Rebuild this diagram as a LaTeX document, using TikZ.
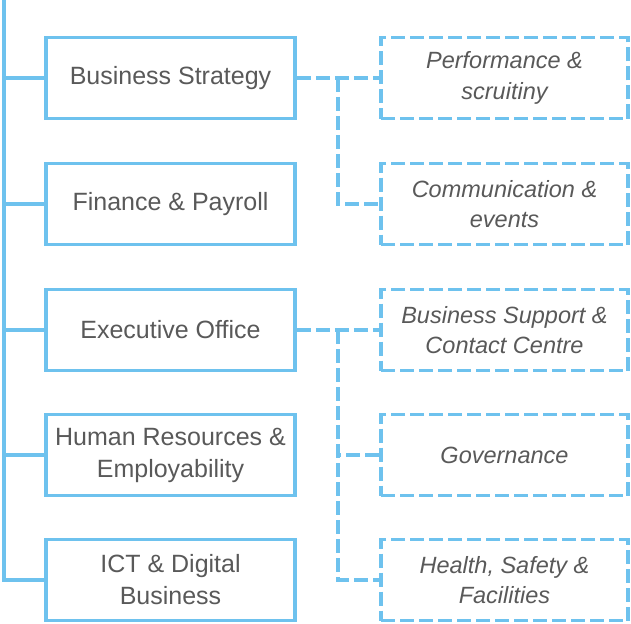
\documentclass[tikz,border=0pt]{standalone}
\usepackage{fontspec}
\setmainfont{Liberation Sans}
\usepackage{tikz}
\usetikzlibrary{calc}
\usetikzlibrary{positioning}
\definecolor{orgblue}{RGB}{110,194,238}
\definecolor{orggray}{RGB}{89,89,89}
\tikzset{
  unitbox/.style={draw=orgblue, line width=3.6pt, minimum width=249pt, minimum height=81pt,
    align=center, text=orggray, font=\fontsize{25}{32}\selectfont},
  teambox/.style={draw=orgblue, line width=3.6pt, dash pattern=on 14pt off 5pt,
    minimum width=247pt, minimum height=81pt, align=center, text=orggray,
    font=\fontsize{23.5}{30.5}\selectfont\itshape},
  trunk/.style={draw=orgblue, line width=3.6pt},
  dashline/.style={draw=orgblue, line width=3.6pt, dash pattern=on 14pt off 5pt}
}

\begin{document}
\begin{tikzpicture}[x=1pt,y=-1pt]
    \useasboundingbox (0,0) rectangle (631,623);
    % left column
    \node[unitbox] (bs) at (170.5,78) {Business Strategy};
    \node[unitbox] (fin) at (170.5,204) {Finance \& Payroll};
    \node[unitbox] (exec) at (170.5,330) {Executive Office};
    \node[unitbox] (hr) at (170.5,455) {Human Resources \&\\Employability};
    \node[unitbox] (ict) at (170.5,580) {ICT \& Digital\\Business};
    % right column
    \node[teambox] (perf) at (504.5,78) {Performance \&\\scruitiny};
    \node[teambox] (comm) at (504.5,204) {Communication \&\\events};
    \node[teambox] (supp) at (504.5,330) {Business Support \&\\Contact Centre};
    \node[teambox] (gov) at (504.5,455) {Governance};
    \node[teambox] (hsf) at (504.5,580) {Health, Safety \&\\Facilities};
    % trunk
    \coordinate (top) at (4,0);
    \foreach \n in {bs,fin,exec,hr,ict}
      \draw[trunk] (top) |- (\n.west);
    % dashed links
    \draw[dashline] (bs.east) -- (perf.west);
    \draw[dashline] ($(bs.east)!0.5!(perf.west)$) |- (comm.west);
    \draw[dashline] (exec.east) -- (supp.west);
    \draw[dashline] ($(exec.east)!0.5!(supp.west)$) |- (gov.west);
    \draw[dashline] ($(exec.east)!0.5!(supp.west)$) |- (hsf.west);
\end{tikzpicture}
\end{document}
